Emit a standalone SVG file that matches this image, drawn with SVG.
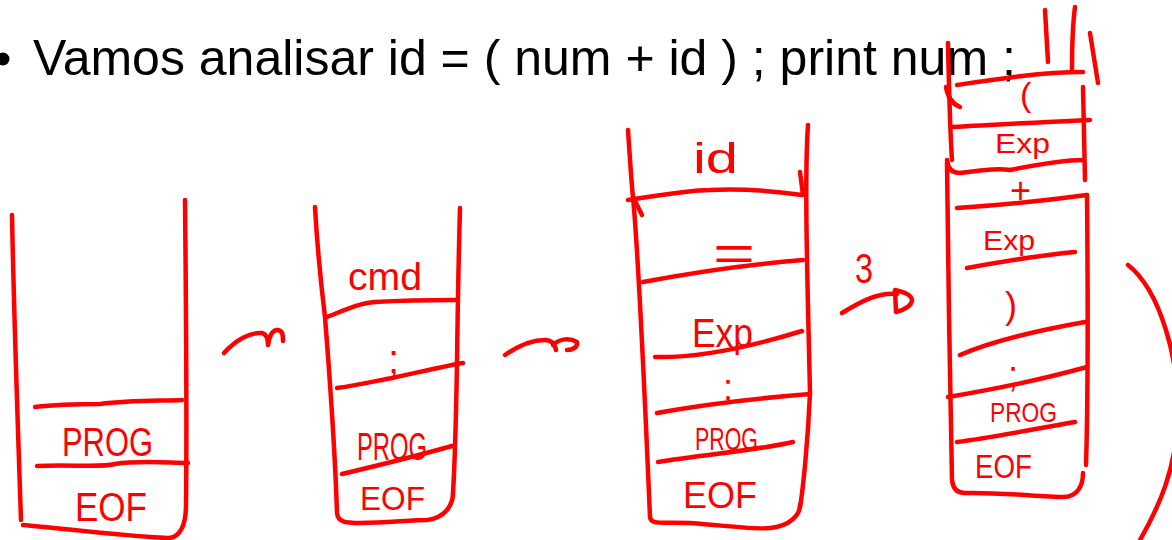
<svg xmlns="http://www.w3.org/2000/svg" width="1172" height="540" viewBox="0 0 1172 540">
  <style>
    .ink { fill: none; stroke: #ff0000; stroke-width: 4.5; stroke-linecap: round; stroke-linejoin: round; }
    .lbl { fill: #ff0000; font-family: "Liberation Sans", Arial, sans-serif; }
    .title { fill: #000000; font-family: "Liberation Sans", Arial, sans-serif; font-size: 50px; }
  </style>
  <rect width="1172" height="540" fill="#ffffff"/>

  <!-- slide heading -->
  <g id="heading">
    <circle cx="3" cy="59" r="6.5" fill="#000000"/>
    <text class="title" x="33" y="75">Vamos analisar id = ( num + id ) ; print num ;</text>
  </g>

  <!-- stack 1: PROG over EOF -->
  <g id="stack-1">
    <path class="ink" d="M12,215 C14,320 18,430 21,520"/>
    <path class="ink" d="M185,200 C186,300 187,420 186,505 C186,525 180,538 168,538 C120,536 60,528 23,525"/>
    <path class="ink" d="M35,407 C60,404 85,404 100,404 C130,400 160,401 182,400"/>
    <path class="ink" d="M37,466 C70,464 100,468 115,464 C140,460 170,463 188,463"/>
    <text class="lbl" x="62" y="456" font-size="40" textLength="91" lengthAdjust="spacingAndGlyphs">PROG</text>
    <text class="lbl" x="75" y="521" font-size="40" textLength="72" lengthAdjust="spacingAndGlyphs">EOF</text>
  </g>

  <!-- stack 2: cmd ; PROG EOF -->
  <g id="stack-2">
    <path class="ink" d="M315,207 C318,260 325,317 325,317 C330,380 335,450 337,513 C338,522 345,523 360,523 C390,522 415,520 427,520 C445,518 453,505 453,493"/>
    <path class="ink" d="M460,208 C458,280 457,363 457,363 C456,420 455,460 453,493"/>
    <path class="ink" d="M327,317 C345,310 360,303 375,302 C410,300 440,300 455,300"/>
    <path class="ink" d="M337,388 C360,385 380,380 392,378 C420,372 445,366 463,363"/>
    <path class="ink" d="M342,474 C380,465 420,455 452,446"/>
    <text class="lbl" x="348" y="290" font-size="38" textLength="74" lengthAdjust="spacingAndGlyphs">cmd</text>
    <text class="lbl" x="388" y="373" font-size="40">;</text>
    <text class="lbl" x="357" y="460" font-size="38" textLength="70" lengthAdjust="spacingAndGlyphs">PROG</text>
    <text class="lbl" x="360" y="510" font-size="34" textLength="65" lengthAdjust="spacingAndGlyphs">EOF</text>
  </g>

  <!-- stack 3: id = Exp ; PROG EOF -->
  <g id="stack-3">
    <path class="ink" d="M628,130 C630,160 632,190 633,197 C638,250 645,400 650,517 C651,525 660,522 690,523 C730,526 760,530 770,528 C790,526 800,515 800,505"/>
    <path class="ink" d="M808,125 C804,180 808,300 810,393 C808,440 803,490 800,507"/>
    <path class="ink" d="M800,172 L803,195"/>
    <path class="ink" d="M628,200 C660,195 690,190 710,190 C740,188 780,192 802,195"/>
    <path class="ink" d="M633,197 L642,215"/>
    <path class="ink" d="M643,282 C680,275 740,265 803,260"/>
    <path class="ink" d="M655,357 C690,358 740,350 802,331"/>
    <path class="ink" d="M657,413 C700,405 760,398 810,394"/>
    <path class="ink" d="M658,462 C700,455 760,450 793,442"/>
    <text class="lbl" x="693" y="173" font-size="42" textLength="45" lengthAdjust="spacingAndGlyphs">id</text>
    <text class="lbl" x="713" y="270" font-size="50" textLength="42" lengthAdjust="spacingAndGlyphs">=</text>
    <text class="lbl" x="692" y="347" font-size="40" textLength="61" lengthAdjust="spacingAndGlyphs">Exp</text>
    <text class="lbl" x="723" y="400" font-size="36">;</text>
    <text class="lbl" x="695" y="450" font-size="32" textLength="63" lengthAdjust="spacingAndGlyphs">PROG</text>
    <text class="lbl" x="683" y="508" font-size="36" textLength="74" lengthAdjust="spacingAndGlyphs">EOF</text>
  </g>

  <!-- stack 4: ( Exp + Exp ) ; PROG EOF -->
  <g id="stack-4">
    <path class="ink" d="M1045,10 L1048,62"/>
    <path class="ink" d="M1075,7 C1072,30 1072,50 1072,70"/>
    <path class="ink" d="M1090,33 L1098,83"/>
    <path class="ink" d="M948,43 C949,90 950,130 952,160"/>
    <path class="ink" d="M946,87 C948,98 952,104 960,107"/>
    <path class="ink" d="M957,85 C990,80 1040,72 1083,72"/>
    <path class="ink" d="M1083,87 L1085,180"/>
    <path class="ink" d="M953,127 C1000,124 1050,122 1090,120"/>
    <path class="ink" d="M947,160 C948,170 953,173 960,173 C980,170 1000,168 1010,170 C1040,164 1065,160 1083,160"/>
    <path class="ink" d="M947,163 C948,250 950,400 952,480 C953,490 958,493 965,493 C1000,492 1040,497 1063,497 C1078,497 1083,485 1083,473"/>
    <path class="ink" d="M1087,195 C1088,300 1088,400 1086,465"/>
    <path class="ink" d="M957,208 C1000,205 1050,200 1087,195"/>
    <path class="ink" d="M967,268 C1000,262 1040,255 1075,252"/>
    <path class="ink" d="M960,355 C990,342 1040,330 1085,322"/>
    <path class="ink" d="M948,397 C990,390 1040,380 1087,367"/>
    <path class="ink" d="M957,442 C990,438 1040,428 1075,422"/>
    <text class="lbl" x="1020" y="106" font-size="34">(</text>
    <text class="lbl" x="995" y="153" font-size="28" textLength="55" lengthAdjust="spacingAndGlyphs">Exp</text>
    <text class="lbl" x="1010" y="203" font-size="36">+</text>
    <text class="lbl" x="983" y="250" font-size="28" textLength="52" lengthAdjust="spacingAndGlyphs">Exp</text>
    <text class="lbl" x="1005" y="318" font-size="36">)</text>
    <text class="lbl" x="1008" y="387" font-size="36">;</text>
    <text class="lbl" x="990" y="422" font-size="28" textLength="67" lengthAdjust="spacingAndGlyphs">PROG</text>
    <text class="lbl" x="975" y="478" font-size="34" textLength="57" lengthAdjust="spacingAndGlyphs">EOF</text>
  </g>

  <!-- transitions between stacks -->
  <g id="connectors">
    <path class="ink" d="M224,353 C236,340 250,332 262,333 C266,334 268,338 268,345 M268,345 C269,336 273,329 278,330 C283,331 283,336 283,341"/>
    <path class="ink" d="M505,355 C518,346 532,340 545,340 C552,340 555,345 556,350 M553,345 C560,338 570,338 577,342 C578,347 573,350 567,350"/>
    <path class="ink" d="M842,313 C860,302 878,292 897,294"/>
    <path class="ink" d="M895,290 L896,312 C905,310 912,305 912,300 C911,294 903,292 895,290 Z"/>
    <text class="lbl" x="855" y="283" font-size="42" textLength="18" lengthAdjust="spacingAndGlyphs">3</text>
    <path class="ink" d="M1128,265 C1160,290 1180,360 1178,420 C1175,470 1160,505 1140,540"/>
  </g>
</svg>
